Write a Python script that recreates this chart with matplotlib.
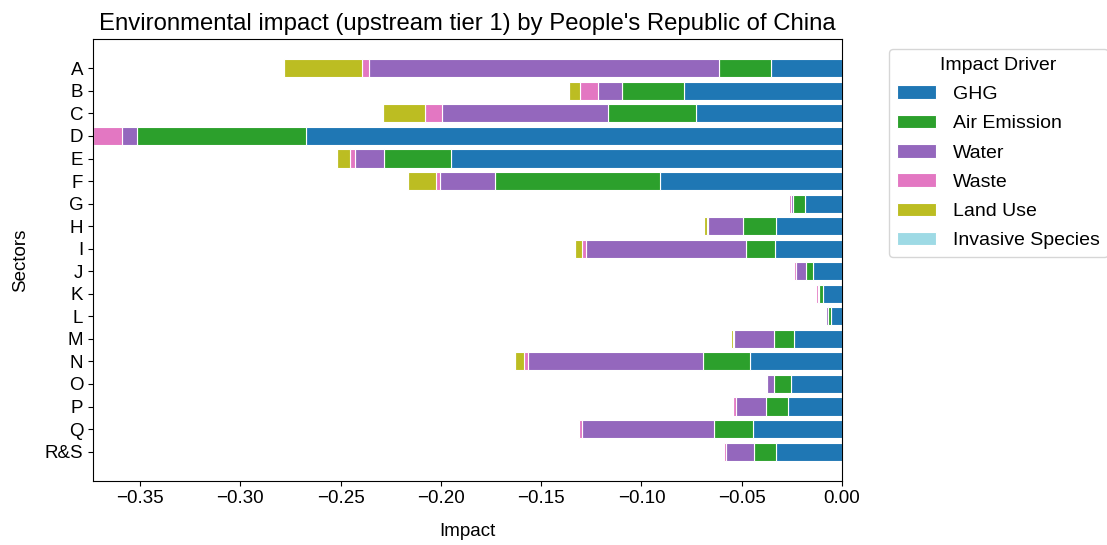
import numpy as np
import matplotlib
matplotlib.use("Agg")
import matplotlib.pyplot as plt

plt.rcParams['font.family'] = ['Liberation Sans', 'DejaVu Sans']
plt.rcParams['font.size'] = 13.5

sectors = ["A", "B", "C", "D", "E", "F", "G", "H", "I", "J",
           "K", "L", "M", "N", "O", "P", "Q", "R&S"]

drivers = ["GHG", "Air Emission", "Water", "Waste", "Land Use", "Invasive Species"]
colors = ["#1f77b4", "#2ca02c", "#9467bd", "#e377c2", "#bcbd22", "#9edae5"]

# impact per sector, one list per driver
ghg = [-0.0356, -0.0789, -0.0726, -0.2674, -0.1952, -0.0906, -0.0184, -0.0329, -0.0336,
       -0.0143, -0.0094, -0.0053, -0.0237, -0.0457, -0.0252, -0.0271, -0.0443, -0.0329]
air_emission = [-0.0259, -0.0308, -0.0441, -0.0841, -0.0332, -0.0826, -0.0060, -0.0165, -0.0143,
                -0.0034, -0.0019, -0.0015, -0.0104, -0.0235, -0.0085, -0.0106, -0.0196, -0.0109]
water = [-0.1746, -0.0119, -0.0826, -0.0075, -0.0143, -0.0274, -0.0012, -0.0174, -0.0799,
         -0.0053, -0.0007, -0.0010, -0.0196, -0.0872, -0.0036, -0.0150, -0.0659, -0.0138]
waste = [-0.0031, -0.0090, -0.0084, -0.0145, -0.0026, -0.0021, -0.0007, -0.0007, -0.0019,
         -0.0007, -0.0010, -0.0003, -0.0005, -0.0021, -0.0007, -0.0014, -0.0014, -0.0010]
land_use = [-0.0390, -0.0053, -0.0213, 0.0, -0.0063, -0.0136, -0.0002, -0.0012, -0.0036,
            -0.0002, -0.0001, -0.0001, -0.0010, -0.0044, -0.0005, -0.0001, -0.0003, -0.0007]
invasive_species = [0.0] * len(sectors)

series = [ghg, air_emission, water, waste, land_use, invasive_species]

fig = plt.figure(figsize=(11.07, 5.45), dpi=100)
ax = fig.add_axes([0.084, 0.118, 0.6766, 0.81])

y = np.arange(len(sectors))
left = np.zeros(len(sectors))
for name, vals, c in zip(drivers, series, colors):
    vals = np.array(vals)
    ax.barh(y, vals, left=left, height=0.8, color=c, edgecolor="white",
            linewidth=0.8, label=name)
    left = left + vals

ax.set_yticks(y)
ax.set_yticklabels(sectors)
ax.invert_yaxis()
ax.set_xlabel("Impact", labelpad=11)
ax.set_ylabel("Sectors", labelpad=11)
ax.set_title("Environmental impact (upstream tier 1) by People's Republic of China",
             fontsize=17.2, pad=7)
ax.legend(title="Impact Driver", bbox_to_anchor=(1.05, 1), loc="upper left",
          fontsize=14, title_fontsize=14, labelspacing=0.6, handletextpad=0.9)

fig.savefig("out.png", dpi=100)
